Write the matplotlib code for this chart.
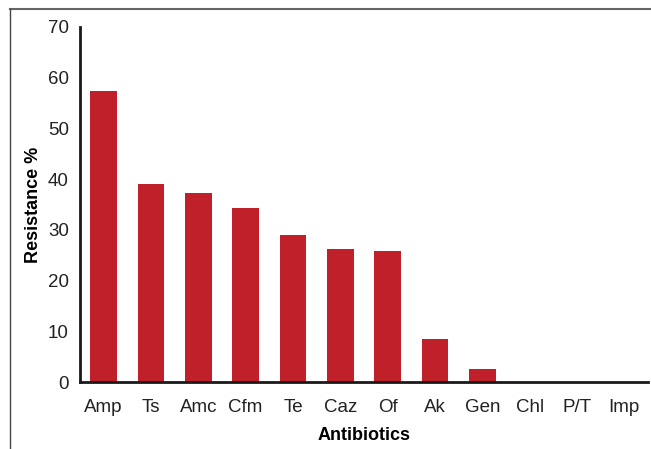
import matplotlib.pyplot as plt
from matplotlib.lines import Line2D

plt.rcParams['font.family'] = ['Liberation Sans', 'DejaVu Sans']

# Data
antibiotics = ['Amp', 'Ts', 'Amc', 'Cfm', 'Te', 'Caz', 'Of', 'Ak', 'Gen', 'Chl', 'P/T', 'Imp']
resistance = [57.4, 39.0, 37.3, 34.4, 28.9, 26.2, 25.8, 8.5, 2.6, 0, 0, 0]
y_ticks = [0, 10, 20, 30, 40, 50, 60, 70]

bar_color = '#c0202a'

fig = plt.figure(figsize=(6.51, 4.49), dpi=100)
ax = fig.add_axes([0.1229, 0.149, 0.8725, 0.791])

x = range(len(antibiotics))
ax.bar(x, resistance, width=0.57, color=bar_color)

ax.set_xlim(-0.5, len(antibiotics) - 0.5)
ax.set_ylim(0, 70)
ax.set_yticks(y_ticks)
ax.set_xticks(list(x))
ax.set_xticklabels(antibiotics)
ax.tick_params(axis='both', length=0, labelsize=13.5, colors='#222222')
ax.tick_params(axis='y', pad=8)
ax.tick_params(axis='x', pad=12)

for side in ['top', 'right']:
    ax.spines[side].set_visible(False)
for side in ['left', 'bottom']:
    ax.spines[side].set_linewidth(2)
    ax.spines[side].set_color('#1a1a1a')

ax.set_xlabel('Antibiotics', fontsize=13, fontweight='bold', labelpad=8)
ax.set_ylabel('Resistance %', fontsize=13, fontweight='bold', labelpad=4)

# gray frame on top and left of the figure
fig.add_artist(Line2D([10 / 651, 1.0], [1 - 8.5 / 449, 1 - 8.5 / 449],
                      color='#666666', linewidth=1.5))
fig.add_artist(Line2D([10 / 651, 10 / 651], [0, 1 - 8.5 / 449],
                      color='#444444', linewidth=1))

fig.savefig('out.png', dpi=100)
